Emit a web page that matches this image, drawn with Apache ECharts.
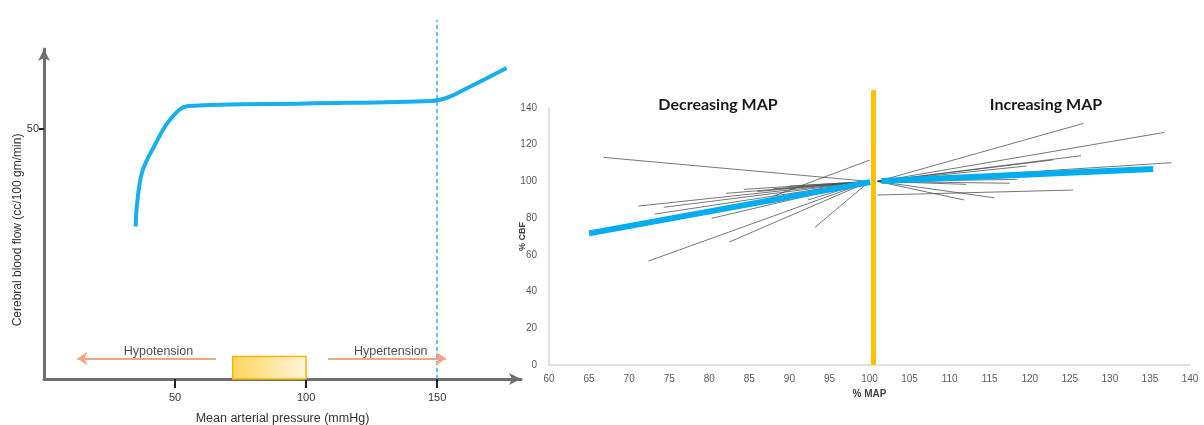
<!DOCTYPE html>
<html><head><meta charset="utf-8">
<script src="https://cdn.jsdelivr.net/npm/echarts@6/dist/echarts.min.js"></script>
<style>html,body{margin:0;padding:0;background:#fff}#c{width:1204px;height:425px}</style>
</head><body><div id="c"></div>
<script>
// ---- Left chart: autoregulation curve ----
const autoregMAP = [35, 35.4, 37.5, 42.5, 48, 55, 100, 148, 154, 160, 168, 176.5];
const autoregCBF = [30.5, 34.5, 41.5, 47, 51.8, 54.6, 55.1, 55.6, 56.3, 57.8, 59.9, 62.2];
const leftXTicks = [50, 100, 150];
const leftYTicks = [50];
const normalRangeMAP = [72, 100];      // shaded box
const normalRangeCBF = [0, 4.5];
const upperLimitMAP = 150;             // dashed line
const hypoArrow = [[65.6, 4.1], [12.7, 4.1]];
const hyperArrow = [[108.4, 4.1], [153.4, 4.1]];
const leftLabels = [[43.7, 5.4, 'Hypotension'], [132.3, 5.4, 'Hypertension']];

// ---- Right chart: %CBF vs %MAP ----
const rightXTicks = [60, 140, 5];
const rightYTicks = [0, 140, 20];
// decreasing MAP individual lines: start point -> end (100, decEndY)
const decStartX = [66.8, 71.2, 73.2, 74.3, 72.4, 80.3, 82.5, 93.2, 82.1, 84.3, 87.4, 92.3, 88, 90, 86, 88];
const decStartY = [113.1, 86.6, 82.2, 85.9, 56.6, 79.9, 67.0, 75.0, 93.5, 95.7, 88.1, 89.9, 96, 97.5, 94.5, 92];
const decEndY   = [100, 100, 100, 100, 100, 100, 100, 100, 100, 100, 100, 100, 100, 100, 100, 111.6];
// increasing MAP individual lines: start (101, incStartY) -> end
const incStartY = [100, 100, 100, 100, 100, 100, 100, 92.6, 100, 100, 100, 100];
const incEndX = [126.7, 136.8, 126.4, 122.9, 137.7, 118.4, 117.5, 125.4, 115.6, 111.8, 119.6, 112.1];
const incEndY = [131.6, 126.7, 114.0, 111.7, 110.2, 101.1, 99.0, 95.3, 91.1, 89.9, 108.4, 98.4];
// pooled (thick) lines
const pooledDec = [[65.0, 71.7], [100.1, 99.6]];
const pooledInc = [[101.5, 100.2], [135.4, 106.8]];
const baselineMAP = 100.5;

const FONT = 'Liberation Sans';
const chart = echarts.init(document.getElementById('c'), null, {renderer: 'canvas'});

const grayLines = [];
decStartX.forEach((x, i) => grayLines.push({coords: [[x, decStartY[i]], [100, decEndY[i]]]}));
incEndX.forEach((x, i) => grayLines.push({coords: [[101, incStartY[i]], [x, incEndY[i]]]}));

chart.setOption({
  animation: false,
  textStyle: {fontFamily: FONT},
  title: [
    {text: 'Decreasing MAP', left: 713, top: 92, textAlign: 'center',
     textStyle: {fontFamily: 'Lato', fontWeight: 'bold', fontSize: 16, color: '#1a1a1a'}},
    {text: 'Increasing MAP', left: 1041, top: 92, textAlign: 'center',
     textStyle: {fontFamily: 'Lato', fontWeight: 'bold', fontSize: 16, color: '#1a1a1a'}}
  ],
  graphic: [
    {type: 'text', x: 18, y: 230, rotation: Math.PI / 2,
     style: {text: 'Cerebral blood flow (cc/100 gm/min)', fontFamily: FONT, fontSize: 12,
             fill: '#333', textAlign: 'center', textVerticalAlign: 'middle'}}
  ],
  grid: [
    {left: 44, right: 683, top: 49, bottom: 46, outerBoundsMode: 'none', containLabel: false},
    {left: 549, right: 14, top: 108, bottom: 60, outerBoundsMode: 'none', containLabel: false}
  ],
  xAxis: [
    {gridIndex: 0, type: 'value', min: 0, max: 182,
     name: 'Mean arterial pressure (mmHg)', nameLocation: 'middle', nameGap: 33, nameMoveOverlap: false,
     nameTextStyle: {fontFamily: FONT, fontSize: 12.5, color: '#333'},
     axisLine: {show: true, symbol: ['none', 'arrow'], symbolSize: [9, 12],
                lineStyle: {color: '#6e6e6e', width: 3}},
     axisTick: {show: true, customValues: leftXTicks, length: 9, lineStyle: {color: '#222', width: 2}},
     axisLabel: {customValues: leftXTicks, fontSize: 11, color: '#333', margin: 13},
     splitLine: {show: false}},
    {gridIndex: 1, type: 'value', min: rightXTicks[0], max: rightXTicks[1], interval: rightXTicks[2],
     name: '% MAP', nameLocation: 'middle', nameGap: 24, nameMoveOverlap: false,
     nameTextStyle: {fontFamily: FONT, fontSize: 10, fontWeight: 'bold', color: '#444'},
     axisLine: {show: true, lineStyle: {color: '#d9d9d9', width: 1.5}},
     axisTick: {show: false},
     axisLabel: {fontSize: 10, color: '#595959', margin: 9, showMaxLabel: true},
     splitLine: {show: false}}
  ],
  yAxis: [
    {gridIndex: 0, type: 'value', min: 0, max: 66,
     axisLine: {show: true, symbol: ['none', 'arrow'], symbolSize: [9, 12],
                lineStyle: {color: '#6e6e6e', width: 3}},
     axisTick: {show: true, customValues: leftYTicks, length: 5, lineStyle: {color: '#222', width: 2}},
     axisLabel: {customValues: leftYTicks, fontSize: 11, color: '#333', margin: 5},
     splitLine: {show: false}},
    {gridIndex: 1, type: 'value', min: rightYTicks[0], max: rightYTicks[1], interval: rightYTicks[2],
     name: '% CBF', nameLocation: 'middle', nameGap: 22, nameMoveOverlap: false,
     nameTextStyle: {fontFamily: FONT, fontSize: 9, fontWeight: 'bold', color: '#444'},
     axisLine: {show: true, lineStyle: {color: '#d9d9d9', width: 1.5}},
     axisTick: {show: false},
     axisLabel: {fontSize: 10, color: '#595959', margin: 12},
     splitLine: {show: false}}
  ],
  series: [
    {type: 'custom', xAxisIndex: 0, yAxisIndex: 0, clip: false,
     data: [[normalRangeMAP[0], normalRangeMAP[1], normalRangeCBF[0], normalRangeCBF[1]]],
     renderItem: function (params, api) {
       const p1 = api.coord([api.value(0), api.value(3)]);
       const p2 = api.coord([api.value(1), api.value(2)]);
       return {type: 'rect', shape: {x: p1[0], y: p1[1], width: p2[0] - p1[0], height: p2[1] - p1[1]},
               style: {fill: new echarts.graphic.LinearGradient(0, 0, 1, 0, [
                         {offset: 0, color: '#ffd55c'}, {offset: 1, color: '#fff4dc'}]),
                       stroke: '#f5b400', lineWidth: 1.5}};
     }},
    {type: 'lines', coordinateSystem: 'cartesian2d', xAxisIndex: 0, yAxisIndex: 0, clip: false,
     data: [{coords: [[upperLimitMAP, 0], [upperLimitMAP, 71.8]]}],
     lineStyle: {color: '#3aaee0', width: 1.5, type: [4, 3], opacity: 1}},
    {type: 'lines', coordinateSystem: 'cartesian2d', xAxisIndex: 0, yAxisIndex: 0, clip: false,
     symbol: ['none', 'arrow'], symbolSize: [9, 10],
     data: [{coords: hypoArrow}, {coords: hyperArrow}],
     lineStyle: {color: '#f4a582', width: 2, opacity: 1}},
    {type: 'scatter', xAxisIndex: 0, yAxisIndex: 0, symbolSize: 0, silent: true,
     data: leftLabels,
     label: {show: true, position: 'inside', formatter: p => p.data[2],
             fontFamily: FONT, fontSize: 12.5, color: '#222'}},
    {type: 'line', xAxisIndex: 0, yAxisIndex: 0, showSymbol: false, smooth: 0.35,
     data: autoregMAP.map((x, i) => [x, autoregCBF[i]]),
     lineStyle: {color: '#17b0ec', width: 4}},
    {type: 'lines', coordinateSystem: 'cartesian2d', xAxisIndex: 1, yAxisIndex: 1,
     data: grayLines, lineStyle: {color: '#4a4a4a', width: 1, opacity: 0.75}},
    {type: 'lines', coordinateSystem: 'cartesian2d', xAxisIndex: 1, yAxisIndex: 1, clip: false,
     data: [{coords: [[baselineMAP, 0], [baselineMAP, 149.8]]}],
     lineStyle: {color: '#ffc000', width: 5, opacity: 1}},
    {type: 'lines', coordinateSystem: 'cartesian2d', xAxisIndex: 1, yAxisIndex: 1,
     data: [{coords: pooledDec}, {coords: pooledInc}],
     lineStyle: {color: '#00adef', width: 6, opacity: 1}}
  ]
});
</script></body></html>
